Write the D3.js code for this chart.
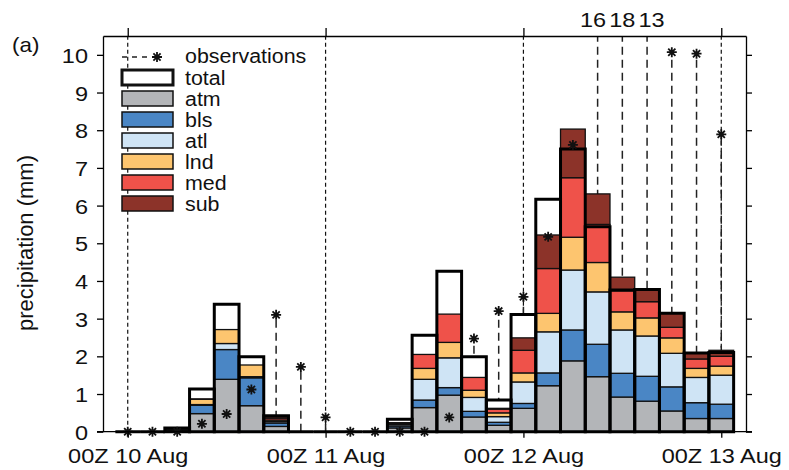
<!DOCTYPE html>
<meta charset="utf-8">
<style>
    body { margin: 0; background: #fff; }
    text { font-family: "Liberation Sans", Arial, sans-serif; fill: #111; }
</style>
<body>
<svg width="789" height="470"></svg>
<script src="https://d3js.org/d3.v7.min.js"></script>
<script>
    // hours after 00Z 10 Aug, 3-hourly
    const times = [0, 3, 6, 9, 12, 15, 18, 21, 24, 27, 30, 33, 36, 39, 42, 45, 48, 51, 54, 57, 60, 63, 66, 69, 72];
    const atm = [0, 0, 0.04, 0.48, 1.39, 0.69, 0.14, 0, 0, 0, 0, 0.10, 0.64, 0.97, 0.39, 0.17, 0.62, 1.22, 1.88, 1.46, 0.92, 0.81, 0.55, 0.35, 0.35];
    const bls = [0, 0, 0.02, 0.22, 0.79, 0.74, 0.09, 0, 0, 0, 0, 0.05, 0.20, 0.20, 0.15, 0.08, 0.13, 0.34, 0.82, 0.86, 0.63, 0.66, 0.64, 0.42, 0.38];
    const atl = [0, 0, 0.02, 0.02, 0.16, 0.03, 0.04, 0, 0, 0, 0, 0.04, 0.55, 0.79, 0.37, 0.15, 0.57, 1.09, 1.59, 1.39, 1.15, 1.07, 0.89, 0.67, 0.77];
    const lnd = [0, 0, 0.01, 0.14, 0.37, 0.31, 0.04, 0, 0, 0, 0, 0.02, 0.29, 0.41, 0.19, 0.10, 0.24, 0.49, 0.87, 0.78, 0.48, 0.48, 0.41, 0.24, 0.24];
    const med = [0, 0, 0.01, 0.01, 0, 0, 0.05, 0, 0, 0, 0, 0.02, 0.37, 0.75, 0.34, 0.10, 0.60, 1.19, 1.58, 1.01, 0.56, 0.43, 0.28, 0.25, 0.26];
    const sub = [0, 0, 0, 0, 0, 0, 0.04, 0, 0, 0, 0, 0.01, 0, 0, 0, 0.02, 0.33, 0.89, 1.29, 0.81, 0.36, 0.31, 0.37, 0.15, 0.16];
    const total = [0, 0, 0.10, 1.13, 3.38, 1.99, 0.42, 0, 0, 0, 0, 0.33, 2.56, 4.26, 1.99, 0.84, 3.11, 6.17, 7.50, 5.44, 3.76, 3.77, 3.14, 2.09, 2.10];
    const obs = [0, 0, 0, 0.21, 0.47, 1.12, 3.10, 1.72, 0.38, 0, 0, 0, 0, 0.38, 2.47, 3.20, 3.58, 5.17, 7.61, 16, 18, 13, 10.07, 10.03, 7.89];

    const dayTicks = [0, 24, 48, 72];
    const dayLabels = ["00Z 10 Aug", "00Z 11 Aug", "00Z 12 Aug", "00Z 13 Aug"];
    const yTicks = [0, 1, 2, 3, 4, 5, 6, 7, 8, 9, 10];

    const keys = ["atm", "bls", "atl", "lnd", "med", "sub"];
    const colors = ["#b3b5b8", "#4a86c5", "#cfe4f5", "#fdc56f", "#ef524a", "#8c3329"];
    const color = d3.scaleOrdinal().domain(keys).range(colors);

    const svg = d3.select("svg");
    const x = d3.scaleLinear().domain([-3, 75]).range([103, 746]);
    const y = d3.scaleLinear().domain([0, 10.5]).range([431.7, 36]);
    const yTop = y.domain()[1];
    const barW = x(1.5) - x(-1.5);
    const sx = 1.12; // the original text is a bit wide

    const rows = times.map((t, i) => ({
        t: t, total: total[i], obs: obs[i],
        atm: atm[i], bls: bls[i], atl: atl[i], lnd: lnd[i], med: med[i], sub: sub[i]
    }));
    const layers = d3.stack().keys(keys)(rows);

    // day markers
    svg.append("g")
        .selectAll("line")
        .data(dayTicks)
        .join("line")
        .attr("x1", d => x(d)).attr("x2", d => x(d))
        .attr("y1", y(0)).attr("y2", y(yTop))
        .attr("stroke", "#111").attr("stroke-width", 1.2)
        .attr("stroke-dasharray", "4,3");

    // observation stems
    svg.append("g")
        .selectAll("line")
        .data(rows.filter(d => d.obs > 0))
        .join("line")
        .attr("x1", d => x(d.t)).attr("x2", d => x(d.t))
        .attr("y1", y(0)).attr("y2", d => y(Math.min(d.obs, yTop)))
        .attr("stroke", "#222").attr("stroke-width", 1.5)
        .attr("stroke-dasharray", "8,5");

    // off-scale observations
    const off = rows.filter(d => d.obs > yTop);
    svg.append("g")
        .selectAll("text")
        .data(off)
        .join("text")
        .attr("transform", (d, i) => "translate(" + (x(d.t) + (i - (off.length - 1) / 2) * 4.5) + ",27) scale(" + sx + ",1)")
        .attr("text-anchor", "middle")
        .attr("font-size", 21)
        .text(d => d.obs);

    // total boxes (white)
    svg.append("g")
        .selectAll("rect")
        .data(rows.filter(d => d.total > 0))
        .join("rect")
        .attr("x", d => x(d.t) - barW / 2)
        .attr("y", d => y(d.total))
        .attr("width", barW)
        .attr("height", d => y(0) - y(d.total))
        .attr("fill", "#fff");

    // source components
    svg.append("g")
        .selectAll("g")
        .data(layers)
        .join("g")
        .attr("fill", d => color(d.key))
        .selectAll("rect")
        .data(d => d.filter(s => s[1] - s[0] > 0))
        .join("rect")
        .attr("x", d => x(d.data.t) - barW / 2)
        .attr("y", d => y(d[1]))
        .attr("width", barW)
        .attr("height", d => y(d[0]) - y(d[1]))
        .attr("stroke", "#111")
        .attr("stroke-width", 1.3);

    // total outline
    svg.append("g")
        .selectAll("path")
        .data(rows)
        .join("path")
        .attr("d", d => {
            const x0 = x(d.t) - barW / 2, x1 = x(d.t) + barW / 2;
            return "M" + x0 + "," + y(0) + "V" + y(d.total) + "H" + x1 + "V" + y(0) + "Z";
        })
        .attr("fill", "none")
        .attr("stroke", "#000")
        .attr("stroke-width", 3)
        .attr("stroke-linejoin", "miter");

    function star(g) {
        g.append("path")
            .attr("d", "M-5,0H5M0,-5V5M-3.6,-3.6L3.6,3.6M-3.6,3.6L3.6,-3.6")
            .attr("stroke", "#111").attr("stroke-width", 1.8);
        g.append("circle").attr("r", 2).attr("fill", "#111");
    }

    svg.append("g")
        .selectAll("g")
        .data(rows.filter(d => d.obs <= yTop))
        .join("g")
        .attr("transform", d => "translate(" + x(d.t) + "," + y(d.obs) + ")")
        .call(star);

    // axes and frame
    const left = svg.append("g")
        .attr("transform", "translate(103,0)")
        .call(d3.axisLeft(y).tickValues(yTicks).tickSize(6).tickSizeOuter(0).tickFormat(d3.format("d")));
    left.selectAll("text")
        .attr("x", null).attr("dy", null)
        .attr("transform", "translate(-15,7.5) scale(" + sx + ",1)")
        .attr("font-size", 21);

    svg.append("g")
        .attr("transform", "translate(746,0)")
        .call(d3.axisRight(y).tickValues(yTicks).tickSize(6).tickSizeOuter(0).tickFormat(""));

    svg.append("g")
        .attr("transform", "translate(0," + y(yTop) + ")")
        .call(d3.axisTop(x).tickValues(dayTicks).tickSize(8).tickSizeOuter(0).tickFormat(""));

    const bottom = svg.append("g")
        .attr("transform", "translate(0," + y(0) + ")")
        .call(d3.axisBottom(x).tickValues(dayTicks).tickSize(6).tickSizeOuter(0)
            .tickFormat((d, i) => dayLabels[i]));
    bottom.select(".domain").attr("d", "M97,0H752");
    bottom.selectAll("text")
        .attr("y", null).attr("dy", null)
        .attr("transform", "translate(0,31.5) scale(" + sx + ",1)")
        .attr("font-size", 21);

    svg.selectAll(".domain, .tick line").attr("stroke-width", 1.3);
    svg.selectAll(".tick text").attr("fill", "#111");

    // y label and panel letter
    svg.append("text")
        .attr("transform", "translate(33,243) rotate(-90)")
        .attr("text-anchor", "middle")
        .attr("font-size", 22)
        .text("precipitation (mm)");

    svg.append("text")
        .attr("transform", "translate(12,52) scale(" + sx + ",1)")
        .attr("font-size", 20)
        .text("(a)");

    // legend
    const legend = svg.append("g");
    const obsRow = legend.append("g").attr("transform", "translate(0,57)");
    obsRow.append("line")
        .attr("x1", 122).attr("x2", 157)
        .attr("stroke", "#222").attr("stroke-width", 1.5)
        .attr("stroke-dasharray", "5,5");
    obsRow.append("g").attr("transform", "translate(157,0)").call(star);
    obsRow.append("text")
        .attr("transform", "translate(185,5.5) scale(1.07,1)")
        .attr("font-size", 20)
        .text("observations");

    const legendKeys = ["total"].concat(keys);
    const item = legend.selectAll("g.item")
        .data(legendKeys)
        .join("g")
        .attr("class", "item")
        .attr("transform", (d, i) => "translate(0," + (77.5 + i * 21) + ")");
    item.append("rect")
        .attr("x", 122).attr("y", -7.5)
        .attr("width", 51).attr("height", 15)
        .attr("fill", d => d === "total" ? "#fff" : color(d))
        .attr("stroke", "#111")
        .attr("stroke-width", d => d === "total" ? 3 : 1.5);
    item.append("text")
        .attr("transform", "translate(185,7) scale(1.07,1)")
        .attr("font-size", 20)
        .text(d => d);
</script>
</body>
